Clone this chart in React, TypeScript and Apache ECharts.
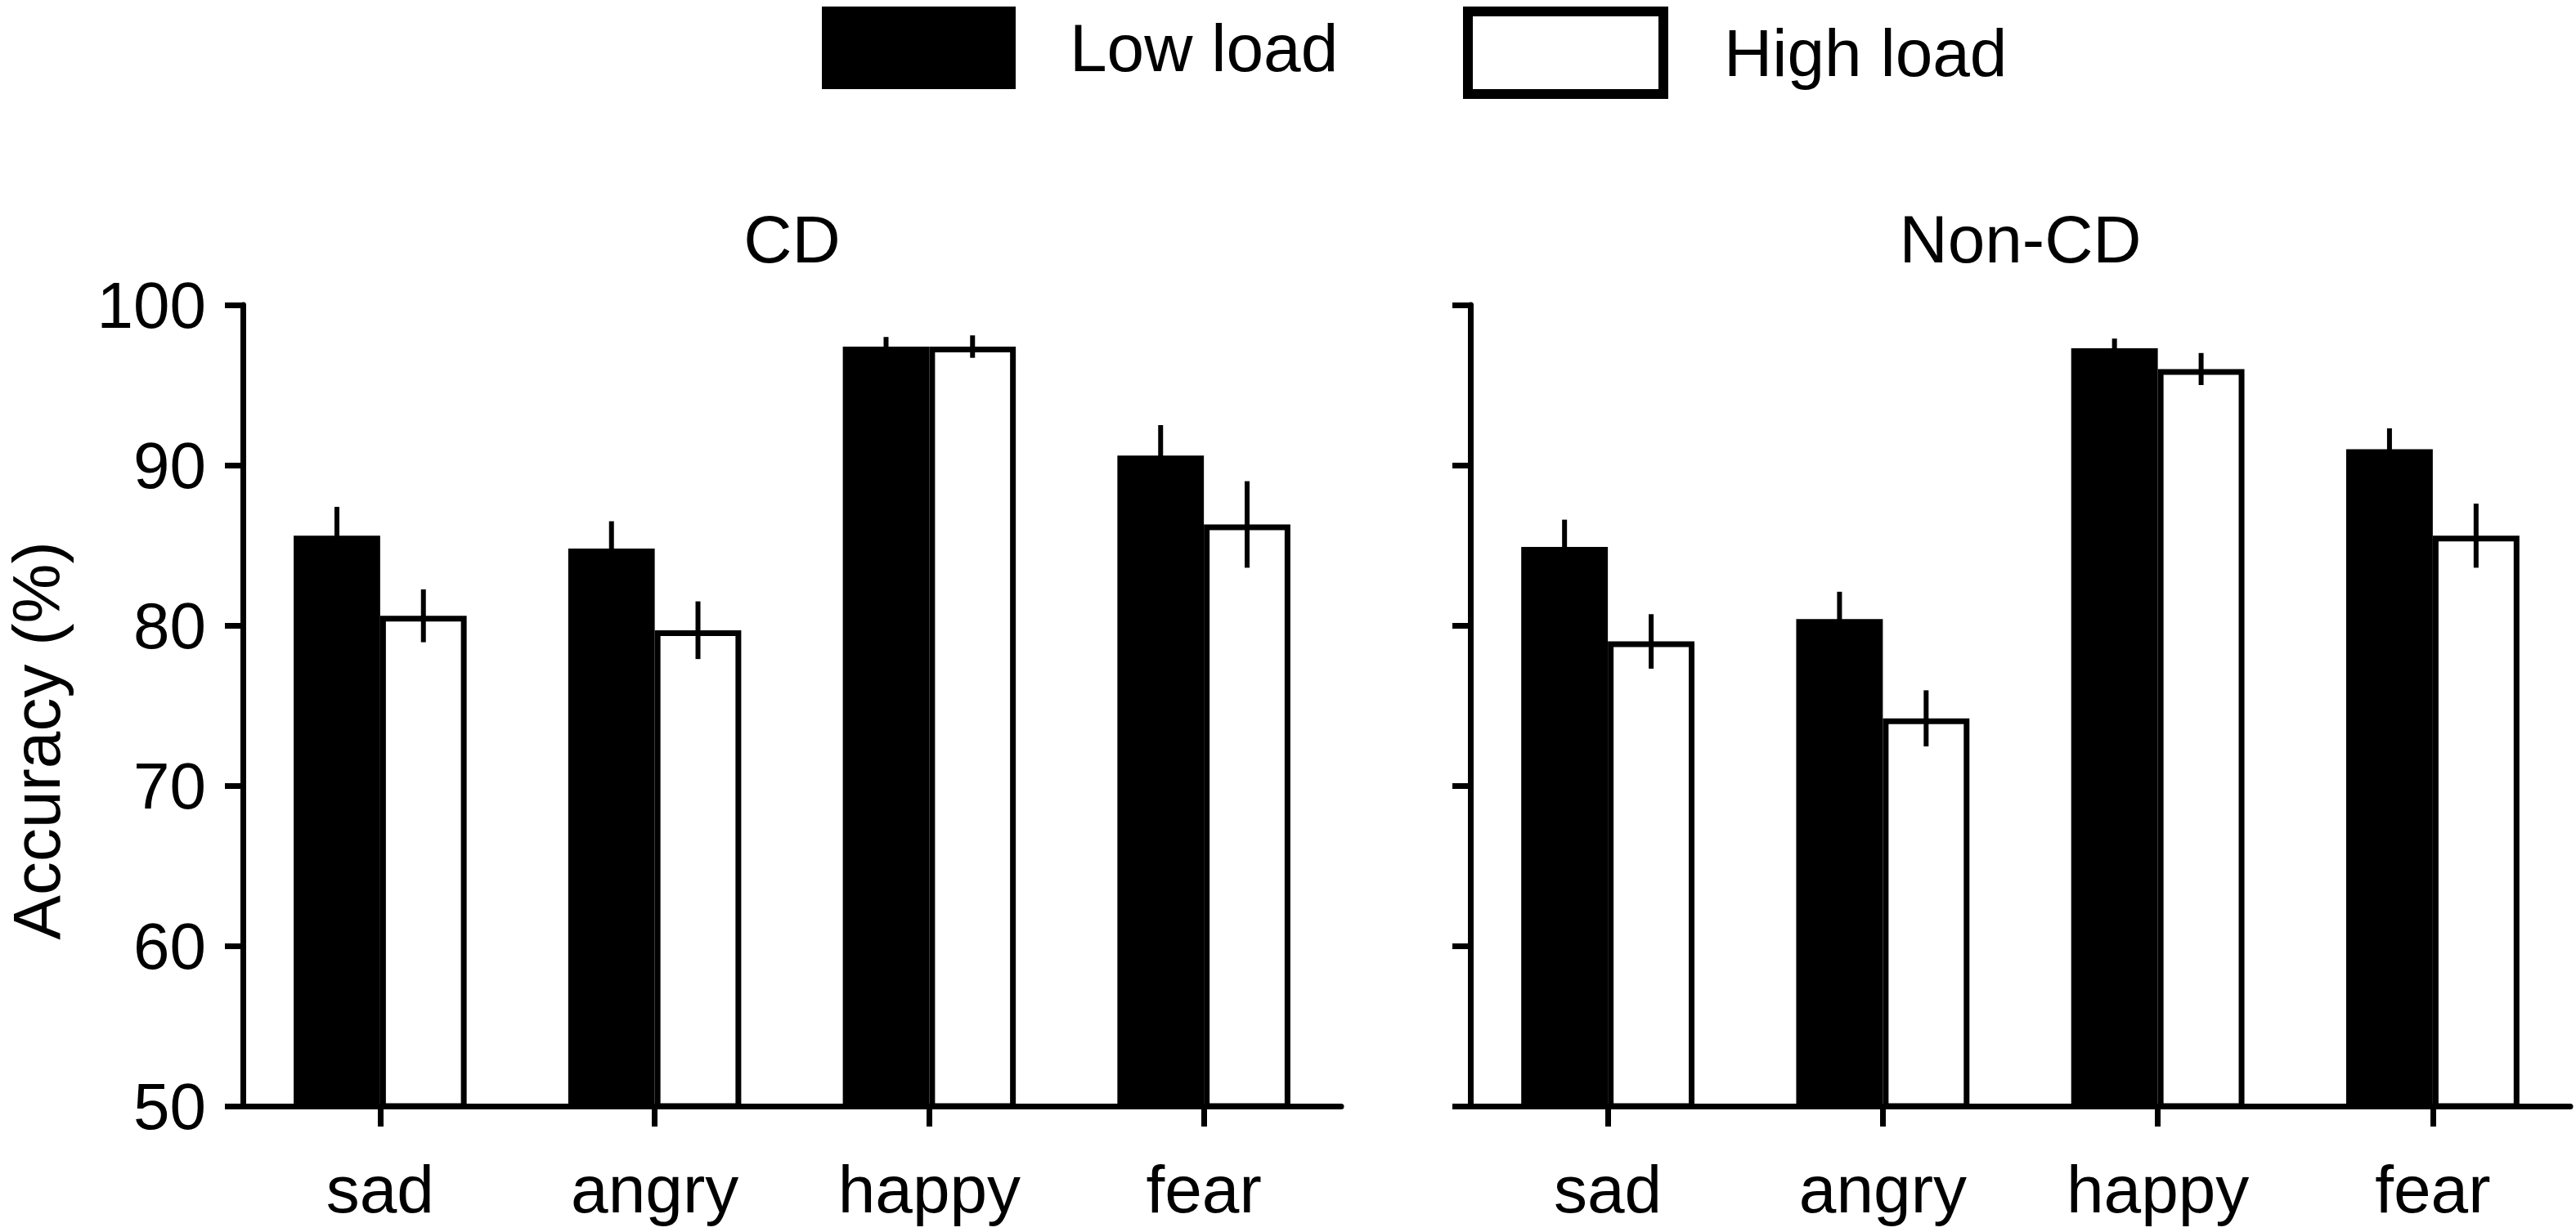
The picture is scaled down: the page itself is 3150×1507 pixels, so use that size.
import React, { useEffect, useRef } from "react";
import * as echarts from "echarts";

const categories = ["sad", "angry", "happy", "fear"];
const panelTitles = ["CD", "Non-CD"];
const seriesNames = ["Low load", "High load"];
const yTicks = { min: 50, max: 100, interval: 10 };

const cdLow = [85.6, 84.8, 97.4, 90.6];
const cdLowErr = [1.8, 1.7, 0.6, 1.9];
const cdHigh = [80.6, 79.7, 97.4, 86.3];
const cdHighErr = [1.65, 1.8, 0.7, 2.7];

const nonCdLow = [84.9, 80.4, 97.3, 91.0];
const nonCdLowErr = [1.7, 1.7, 0.6, 1.3];
const nonCdHigh = [79.0, 74.2, 96.0, 85.6];
const nonCdHighErr = [1.7, 1.75, 1.0, 2.0];

const FONT = "'Liberation Sans', Arial, sans-serif";

export default function App() {
  const ref = useRef<HTMLDivElement>(null);

  useEffect(() => {
    if (!ref.current) return;
    const chart = echarts.init(ref.current, null, { renderer: "svg" });

    const grids = [
      { left: 297, top: 373, width: 1343, height: 980 },
      { left: 1798, top: 373, width: 1345, height: 980 },
    ];
    const BAR_FRAC = 0.315;

    const panels = [
      { low: cdLow, lowErr: cdLowErr, high: cdHigh, highErr: cdHighErr },
      { low: nonCdLow, lowErr: nonCdLowErr, high: nonCdHigh, highErr: nonCdHighErr },
    ];

    const errSeries = (g: number, vals: number[], errs: number[], offset: number) => ({
      type: "custom",
      xAxisIndex: g,
      yAxisIndex: g,
      z: 10,
      silent: true,
      data: vals.map((v, i) => [i, v, errs[i]]),
      encode: { x: 0, y: 1 },
      renderItem: (params: any, api: any) => {
        const i = api.value(0);
        const v = api.value(1);
        const e = api.value(2);
        const band = api.size([1, 0])[0];
        const x = api.coord([i, v])[0] + offset * band;
        const y1 = api.coord([i, v + e])[1];
        const y2 = api.coord([i, v - e])[1];
        return {
          type: "line",
          shape: { x1: x, y1, x2: x, y2 },
          style: { stroke: "#000", lineWidth: 6 },
        };
      },
    });

    const series: any[] = [];
    panels.forEach((p, g) => {
      series.push({
        name: seriesNames[0],
        type: "bar",
        xAxisIndex: g,
        yAxisIndex: g,
        data: p.low,
        barWidth: BAR_FRAC * 100 + "%",
        barGap: "0%",
        itemStyle: { color: "#000", borderWidth: 0 },
      });
      series.push({
        name: seriesNames[1],
        type: "bar",
        xAxisIndex: g,
        yAxisIndex: g,
        data: p.high,
        barWidth: BAR_FRAC * 100 + "%",
        barGap: "0%",
        itemStyle: { color: "#fff", borderColor: "#000", borderWidth: 7 },
      });
      series.push(errSeries(g, p.low, p.lowErr, -BAR_FRAC / 2));
      series.push(errSeries(g, p.high, p.highErr, BAR_FRAC / 2));
    });

    const xAxes = grids.map((_, g) => ({
      type: "category",
      gridIndex: g,
      data: categories,
      axisLine: { show: true, lineStyle: { color: "#000", width: 7 } },
      axisTick: { show: true, alignWithLabel: true, length: 25, lineStyle: { color: "#000", width: 7 } },
      axisLabel: { show: true, color: "#000", fontSize: 82, fontFamily: FONT, margin: 60 },
      splitLine: { show: false },
    }));

    const yAxes = grids.map((_, g) => ({
      type: "value",
      gridIndex: g,
      min: yTicks.min,
      max: yTicks.max,
      interval: yTicks.interval,
      axisLine: { show: true, lineStyle: { color: "#000", width: 7 } },
      axisTick: { show: true, length: 22, lineStyle: { color: "#000", width: 7 } },
      axisLabel: { show: g === 0, color: "#000", fontSize: 80, fontFamily: FONT, margin: 45 },
      splitLine: { show: false },
    }));

    chart.setOption({
      animation: false,
      backgroundColor: "#fff",
      grid: grids,
      xAxis: xAxes,
      yAxis: yAxes,
      legend: [
        {
          data: [{ name: seriesNames[0], icon: "rect", itemStyle: { color: "#000", borderWidth: 0 } }],
          left: 1005,
          top: 8,
          itemWidth: 237,
          itemHeight: 101,
          selectedMode: false,
          padding: 0,
          textStyle: { color: "#000", fontSize: 82, fontFamily: FONT, padding: [0, 0, 0, 61] },
        },
        {
          data: [
            {
              name: seriesNames[1],
              icon: "rect",
              itemStyle: { color: "#fff", borderColor: "#000", borderWidth: 12 },
            },
          ],
          left: 1789,
          top: 8,
          itemWidth: 239,
          itemHeight: 101,
          selectedMode: false,
          padding: 0,
          textStyle: { color: "#000", fontSize: 82, fontFamily: FONT, padding: [0, 0, 0, 69] },
        },
      ],
      graphic: [
        ...panelTitles.map((t, g) => ({
          type: "text",
          x: grids[g].left + grids[g].width / 2,
          y: 251,
          style: {
            text: t,
            fill: "#000",
            font: `82px ${FONT}`,
            textAlign: "center",
            textVerticalAlign: "top",
          },
        })),
        {
          type: "text",
          x: 44,
          y: 906,
          rotation: Math.PI / 2,
          style: {
            text: "Accuracy (%)",
            fill: "#000",
            font: `82px ${FONT}`,
            textAlign: "center",
            textVerticalAlign: "middle",
          },
        },
      ],
      series,
    });

    return () => chart.dispose();
  }, []);

  return (
    <div
      ref={ref}
      style={{ position: "fixed", left: 0, top: 0, width: "3150px", height: "1507px", background: "#fff" }}
    />
  );
}
